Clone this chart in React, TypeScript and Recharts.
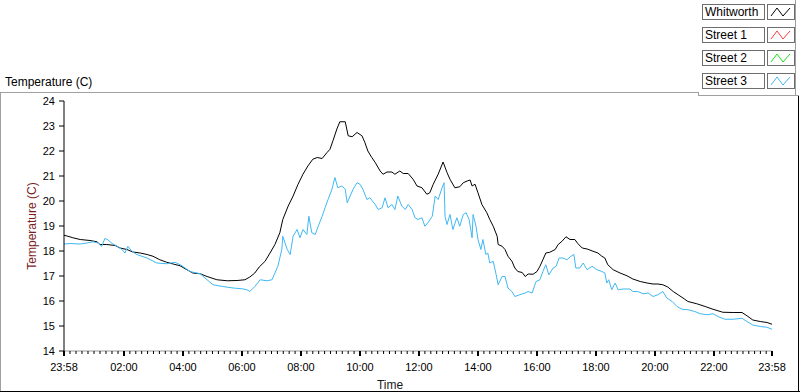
import { Line, LineChart, XAxis, YAxis } from "recharts";

// minutes after 23:58 of the previous day
const whitworthMinutes = [
  0, 8, 18, 33, 53, 67, 73, 87, 104, 114, 128, 140, 155, 169, 181, 195, 209,
  222, 236, 250, 262, 277, 291, 311, 332, 352, 368, 378, 388, 397, 409, 419,
  429, 439, 445, 456, 466, 476, 486, 496, 506, 515, 525, 535, 541, 547, 555,
  561, 572, 578, 586, 596, 606, 612, 618, 626, 633, 643, 649, 657, 667, 673,
  683, 690, 700, 710, 718, 728, 738, 744, 751, 761, 771, 779, 785, 795, 805,
  812, 820, 826, 830, 836, 842, 850, 860, 866, 873, 881, 883, 891, 897, 903,
  911, 917, 923, 932, 938, 944, 954, 962, 968, 974, 980, 988, 999, 1005, 1013,
  1021, 1029, 1039, 1045, 1054, 1064, 1076, 1086, 1094, 1100, 1106, 1117,
  1131, 1145, 1157, 1172, 1186, 1198, 1208, 1218, 1228, 1239, 1249, 1259,
  1269, 1287, 1304, 1320, 1340, 1361, 1379, 1389, 1401, 1416, 1430, 1440,
];
const whitworthTemp = [
  18.63, 18.59, 18.53, 18.46, 18.42, 18.37, 18.26, 18.26, 18.22, 18.12, 18.06,
  17.96, 17.92, 17.86, 17.79, 17.65, 17.55, 17.48, 17.41, 17.25, 17.12, 17.09,
  16.98, 16.85, 16.81, 16.82, 16.85, 16.96, 17.12, 17.36, 17.59, 17.92, 18.26,
  18.73, 19.26, 19.8, 20.2, 20.67, 21.07, 21.4, 21.67, 21.74, 21.7, 21.94,
  22.07, 22.41, 22.88, 23.17, 23.17, 22.61, 22.57, 22.74, 22.61, 22.34, 22.0,
  21.74, 21.54, 21.2, 21.07, 21.16, 21.16, 21.07, 21.2, 21.1, 21.1, 20.87,
  20.6, 20.53, 20.27, 20.33, 20.67, 21.07, 21.56, 21.14, 20.87, 20.53, 20.57,
  20.73, 20.8, 20.84, 20.6, 20.67, 20.33, 19.86, 19.53, 19.26, 18.99, 18.59,
  18.26, 18.19, 18.06, 17.79, 17.59, 17.32, 17.18, 17.14, 16.98, 17.08, 17.07,
  17.18, 17.39, 17.65, 17.92, 17.95, 18.06, 18.26, 18.39, 18.57, 18.46, 18.46,
  18.3, 18.12, 18.08, 17.99, 17.92, 17.79, 17.72, 17.45, 17.25, 17.12, 17.01,
  16.88, 16.78, 16.72, 16.68, 16.68, 16.65, 16.56, 16.38, 16.25, 16.12, 15.98,
  15.89, 15.78, 15.67, 15.55, 15.54, 15.54, 15.41, 15.24, 15.18, 15.14, 15.07,
];

const street3Minutes = [
  0, 12, 33, 47, 59, 69, 77, 83, 89, 98, 108, 118, 124, 130, 138, 148, 169,
  189, 209, 226, 240, 256, 277, 291, 303, 323, 344, 362, 372, 378, 388, 399,
  413, 423, 429, 435, 443, 445, 454, 460, 466, 474, 480, 486, 494, 498, 504,
  511, 517, 525, 531, 537, 545, 551, 557, 565, 572, 576, 582, 588, 596, 602,
  608, 616, 622, 633, 639, 647, 653, 659, 667, 673, 679, 687, 694, 700, 708,
  714, 720, 728, 734, 740, 749, 755, 761, 769, 773, 775, 779, 785, 791, 799,
  805, 812, 818, 824, 830, 832, 838, 842, 848, 852, 858, 862, 866, 873, 879,
  883, 891, 897, 903, 911, 917, 927, 938, 944, 952, 960, 968, 974, 980, 986,
  995, 1001, 1007, 1015, 1023, 1031, 1037, 1041, 1049, 1056, 1064, 1074, 1084,
  1094, 1100, 1104, 1108, 1114, 1121, 1127, 1137, 1151, 1157, 1167, 1178,
  1188, 1198, 1208, 1218, 1226, 1237, 1247, 1257, 1269, 1283, 1294, 1308,
  1320, 1330, 1344, 1361, 1379, 1389, 1401, 1416, 1430, 1440,
];
const street3Temp = [
  18.28, 18.3, 18.28, 18.32, 18.37, 18.32, 18.19, 18.5, 18.45, 18.3, 18.19,
  18.06, 17.92, 18.19, 17.99, 17.86, 17.72, 17.52, 17.49, 17.55, 17.41, 17.18,
  17.09, 16.85, 16.65, 16.58, 16.52, 16.49, 16.45, 16.38, 16.58, 16.85, 16.81,
  16.85, 17.12, 17.39, 18.06, 18.59, 18.06, 17.86, 18.59, 18.86, 18.53, 18.86,
  18.66, 19.39, 18.73, 18.66, 18.99, 19.39, 19.73, 20.06, 20.47, 20.94, 20.53,
  20.6, 20.47, 19.93, 20.2, 20.47, 20.73, 20.67, 20.47, 20.06, 20.13, 19.86,
  19.66, 19.73, 20.13, 19.73, 19.86, 19.66, 20.2, 19.8, 19.66, 19.86, 19.66,
  19.33, 19.26, 19.33, 18.99, 19.13, 19.39, 20.2, 20.06, 20.53, 20.73, 19.39,
  19.06, 19.46, 18.86, 19.33, 18.99, 19.46, 19.53, 19.26, 18.53, 19.46, 18.99,
  18.46, 18.06, 18.46, 17.86, 17.92, 17.52, 17.59, 17.05, 16.65, 16.98, 16.98,
  16.52, 16.38, 16.18, 16.25, 16.32, 16.38, 16.32, 16.78, 16.85, 17.18, 17.45,
  17.05, 17.32, 17.39, 17.72, 17.72, 17.65, 17.79, 17.86, 17.32, 17.32, 17.52,
  17.25, 17.39, 17.25, 17.18, 17.12, 16.72, 16.85, 16.45, 16.72, 16.45, 16.48,
  16.48, 16.38, 16.38, 16.29, 16.32, 16.18, 16.25, 16.38, 16.12, 15.98, 15.78,
  15.67, 15.65, 15.58, 15.49, 15.45, 15.49, 15.38, 15.27, 15.27, 15.31, 15.18,
  15.04, 14.98, 14.95, 14.87,
];

const majorTicks = [0, 122, 242, 362, 482, 602, 722, 842, 962, 1082, 1202, 1322, 1440];
const majorLabels = [
  "23:58", "02:00", "04:00", "06:00", "08:00", "10:00", "12:00",
  "14:00", "16:00", "18:00", "20:00", "22:00", "23:58",
];
const tempTicks = [14, 15, 16, 17, 18, 19, 20, 21, 22, 23, 24];

const legendItems = [
  { name: "Whitworth", color: "#000000" },
  { name: "Street 1", color: "#ff3b3b" },
  { name: "Street 2", color: "#18e018" },
  { name: "Street 3", color: "#3fb8f4" },
];

const whitworthData = whitworthMinutes.map((m, i) => ({ m, v: whitworthTemp[i] }));
const street3Data = street3Minutes.map((m, i) => ({ m, v: street3Temp[i] }));

// ten minor divisions between each pair of labelled ticks
const allTicks: number[] = [];
majorTicks.forEach((t, i) => {
  allTicks.push(t);
  const next = majorTicks[i + 1];
  if (next === undefined) return;
  for (let k = 1; k < 10; k++) allTicks.push(t + ((next - t) * k) / 10);
});

const font = "'Liberation Sans', Arial, sans-serif";

function TimeTick(props: any) {
  const { x, y, payload } = props;
  const idx = majorTicks.indexOf(payload.value);
  const major = idx >= 0;
  return (
    <g>
      <line
        x1={x}
        x2={x}
        y1={y}
        y2={y + (major ? 5 : 3)}
        stroke="#000"
        strokeWidth={major ? 2 : 1}
      />
      {major && (
        <text x={x} y={y + 20} textAnchor="middle" fontSize={11} fill="#000" fontFamily={font}>
          {majorLabels[idx]}
        </text>
      )}
    </g>
  );
}

function Legend() {
  return (
    <div style={{ position: "absolute", left: 698, top: 0, width: 99, height: 95 }}>
      {legendItems.map((it, i) => (
        <div key={it.name} style={{ position: "absolute", top: 4 + i * 23, left: 4, height: 15 }}>
          <div
            style={{
              position: "absolute",
              left: 0,
              top: 0,
              width: 59,
              height: 14,
              border: "1px solid #6e6e6e",
              fontSize: 12,
              lineHeight: "14px",
              paddingLeft: 2,
              whiteSpace: "nowrap",
              color: "#000",
            }}
          >
            {it.name}
          </div>
          <div
            style={{
              position: "absolute",
              left: 65,
              top: 0,
              width: 26,
              height: 14,
              border: "1px solid #6e6e6e",
            }}
          >
            <svg width={26} height={14}>
              <polyline
                points="3,11 9,3 15,11 22,3"
                fill="none"
                stroke={it.color}
                strokeWidth={1}
              />
            </svg>
          </div>
        </div>
      ))}
    </div>
  );
}

export default function App() {
  const line = (style: React.CSSProperties) => (
    <div style={{ position: "absolute", ...style }} />
  );
  return (
    <div
      style={{
        position: "absolute",
        left: 0,
        top: 0,
        width: 800,
        height: 392,
        background: "#fff",
        fontFamily: font,
        overflow: "hidden",
      }}
    >
      <div style={{ position: "absolute", left: 5, top: 75, fontSize: 12, color: "#000" }}>
        Temperature (C)
      </div>
      {line({ left: 0, top: 92, width: 699, height: 1, background: "#a0a0a0" })}
      {line({ left: 698, top: 92, width: 1, height: 4, background: "#a0a0a0" })}
      {line({ left: 698, top: 95, width: 101, height: 1, background: "#a0a0a0" })}
      {line({ left: 795, top: 0, width: 1, height: 96, background: "#a0a0a0" })}
      {line({ left: 0, top: 92, width: 1, height: 300, background: "#a0a0a0" })}
      {line({ left: 798, top: 96, width: 1, height: 296, background: "#000" })}
      {line({ left: 0, top: 391, width: 800, height: 1, background: "#000" })}
      <Legend />
      <LineChart
        width={800}
        height={392}
        style={{ position: "absolute", left: 0, top: 0 }}
        margin={{ top: 101, right: 28, bottom: 0, left: 0 }}
      >
        <XAxis
          xAxisId="top"
          orientation="top"
          type="number"
          dataKey="m"
          domain={[0, 1440]}
          height={0}
          tick={false}
          tickLine={false}
          axisLine={{ stroke: "#000" }}
        />
        <XAxis
          type="number"
          dataKey="m"
          domain={[0, 1440]}
          ticks={allTicks}
          interval={0}
          tick={<TimeTick />}
          tickLine={false}
          tickSize={0}
          tickMargin={0}
          height={41}
          axisLine={{ stroke: "#999" }}
          label={{
            value: "Time",
            position: "insideBottom",
            offset: 3,
            dx: -28,
            fontSize: 12,
            fill: "#1a1a1a",
            fontFamily: font,
          }}
        />
        <YAxis
          domain={[14, 24]}
          ticks={tempTicks}
          interval={0}
          width={64}
          tickSize={5}
          tickMargin={4}
          axisLine={{ stroke: "#000" }}
          tickLine={{ stroke: "#000" }}
          tick={{ fontSize: 11, fill: "#000", fontFamily: font }}
          label={{
            value: "Temperature (C)",
            angle: -90,
            position: "center",
            fontSize: 12,
            fill: "#7a1e1e",
            fontFamily: font,
          }}
        />
        <YAxis
          yAxisId="right"
          orientation="right"
          width={0}
          tick={false}
          tickLine={false}
          axisLine={{ stroke: "#a0a0a0" }}
        />
        <Line
          data={whitworthData}
          dataKey="v"
          type="linear"
          stroke="#000"
          strokeWidth={1}
          dot={false}
          isAnimationActive={false}
        />
        <Line
          data={street3Data}
          dataKey="v"
          type="linear"
          stroke="#3fb8f4"
          strokeWidth={1}
          dot={false}
          isAnimationActive={false}
        />
      </LineChart>
    </div>
  );
}
